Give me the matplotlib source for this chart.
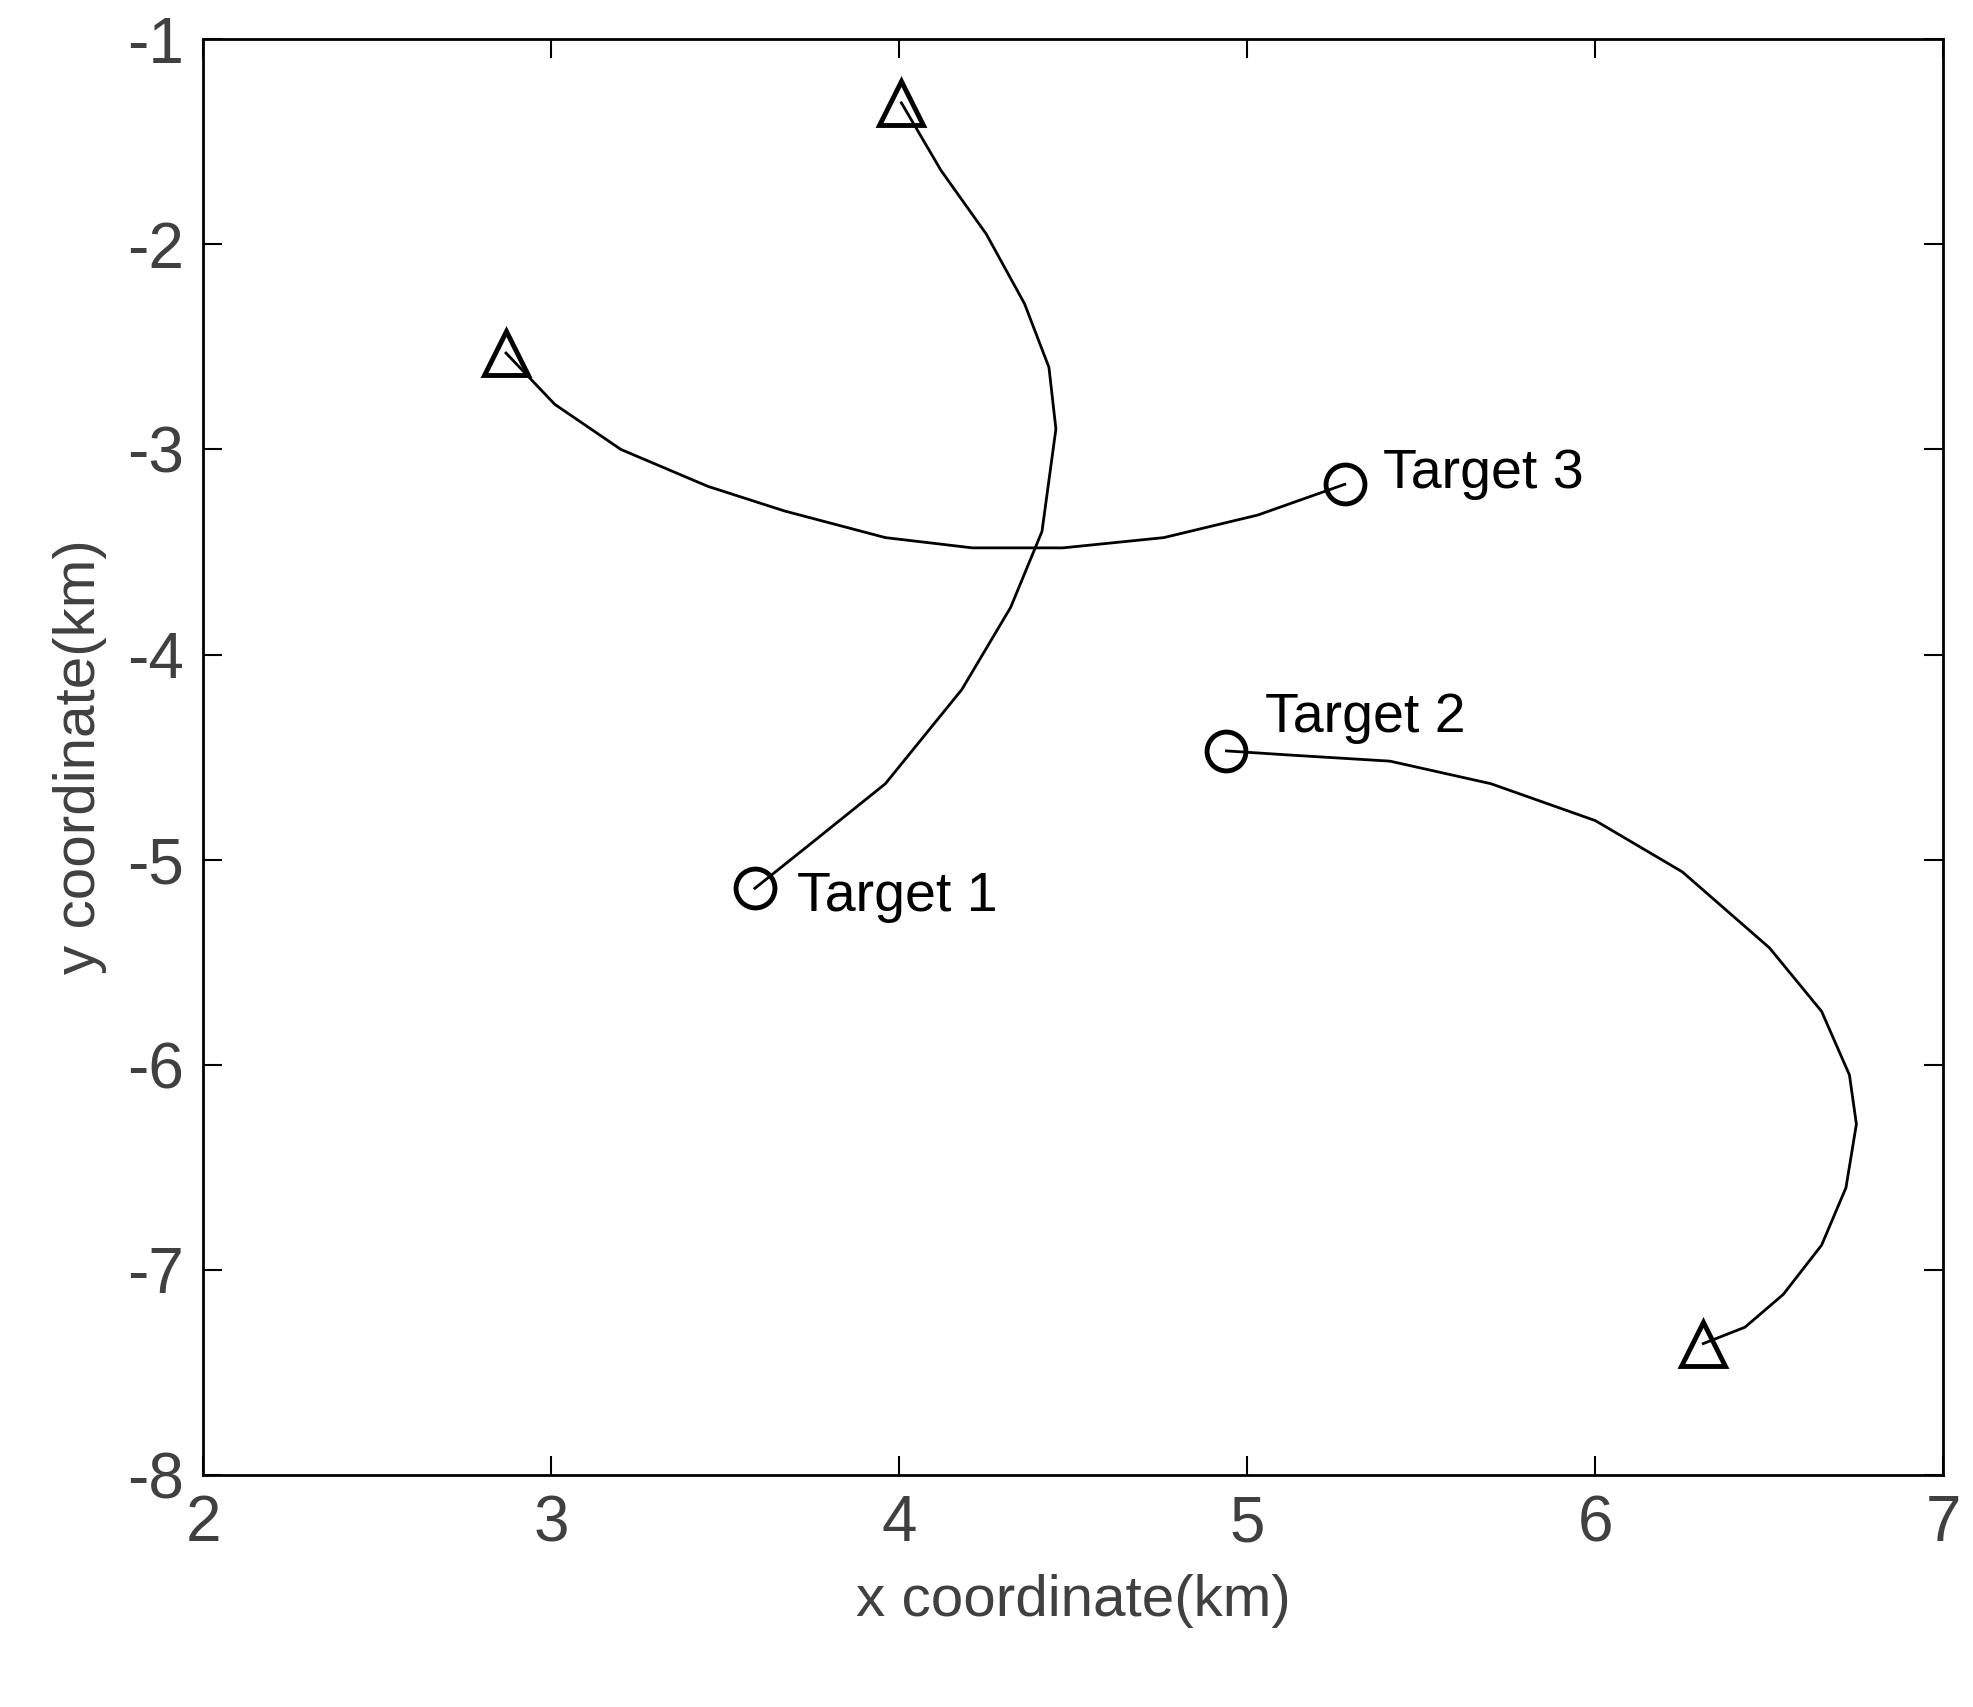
import matplotlib.pyplot as plt

plt.rcParams["font.family"] = ["Liberation Sans", "DejaVu Sans"]
plt.rcParams["axes.unicode_minus"] = False

# track points, start (circle) -> end (triangle)
t1_x = [3.585, 3.74, 3.96, 4.18, 4.32, 4.41, 4.45, 4.43, 4.36, 4.25, 4.12, 4.006]
t1_y = [-5.14, -4.93, -4.63, -4.17, -3.77, -3.40, -2.90, -2.60, -2.29, -1.95, -1.64, -1.31]
t2_x = [4.94, 5.12, 5.41, 5.70, 6.00, 6.25, 6.50, 6.65, 6.73, 6.75, 6.72, 6.65, 6.54, 6.43, 6.31]
t2_y = [-4.47, -4.49, -4.52, -4.63, -4.81, -5.06, -5.43, -5.74, -6.05, -6.29, -6.60, -6.88, -7.12, -7.28, -7.36]
t3_x = [5.28, 5.03, 4.76, 4.47, 4.21, 3.96, 3.67, 3.45, 3.20, 3.01, 2.87]
t3_y = [-3.17, -3.32, -3.43, -3.48, -3.48, -3.43, -3.30, -3.18, -3.00, -2.78, -2.53]
labels = ["Target 1", "Target 2", "Target 3"]
label_off = [(0.12, -0.04), (0.11, 0.16), (0.11, 0.05)]

fig = plt.figure(figsize=(19.73, 17.07), dpi=100)
ax = fig.add_axes([0.103, 0.136, 0.882, 0.841])

for (xs, ys), lab, (dx, dy) in zip([(t1_x, t1_y), (t2_x, t2_y), (t3_x, t3_y)], labels, label_off):
    ax.plot(xs, ys, color="black", linewidth=2)
    ax.plot(xs[0], ys[0], "o", mfc="none", mec="black", markersize=28, mew=3.5)
    ax.plot(xs[-1], ys[-1], "^", mfc="none", mec="black", markersize=32, mew=3.5)
    ax.text(xs[0] + dx, ys[0] + dy, lab, fontsize=40, va="center", ha="left")

ax.set_xlim(2, 7)
ax.set_ylim(-8, -1)
ax.set_xticks(range(2, 8))
ax.set_yticks(range(-8, 0))
ax.tick_params(direction="in", length=14, width=1.5, top=True, right=True,
               labelsize=46, labelcolor="#404040", pad=14)
for s in ax.spines.values():
    s.set_linewidth(2)
ax.set_xlabel("x coordinate(km)", fontsize=42, color="#404040", labelpad=14)
ax.set_ylabel("y coordinate(km)", fontsize=42, color="#404040", labelpad=14)

fig.savefig("out.png", dpi=100)
